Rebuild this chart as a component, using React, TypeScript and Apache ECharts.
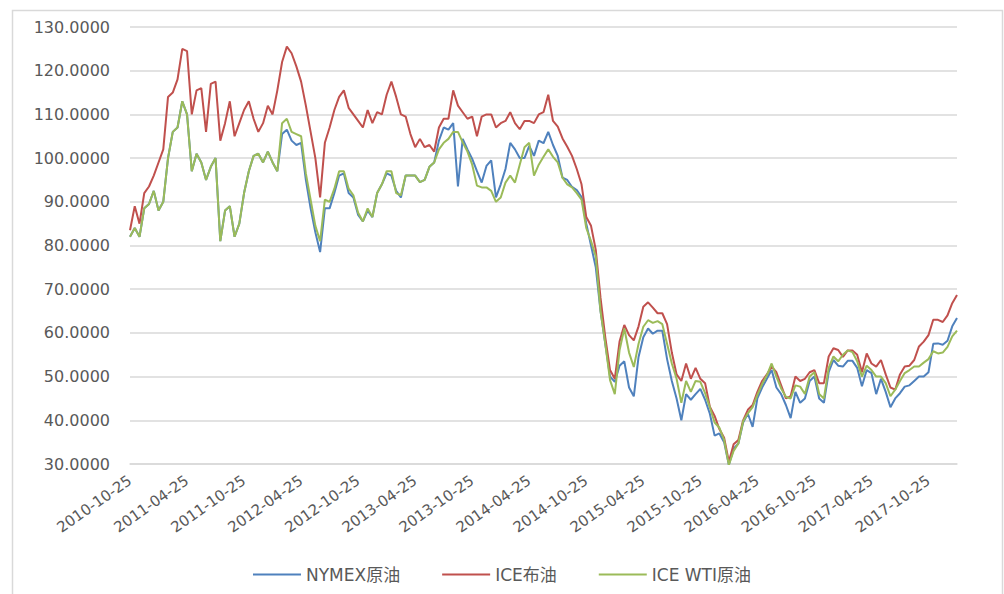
import React, { useEffect, useRef } from "react";
import * as echarts from "echarts";

// Semi-monthly sample dates (25th and 10th of each month), 2010-10-25 .. 2018-01-25
const categories: string[] = (() => {
  const out: string[] = [];
  for (let k = 0; k <= 87; k++) {
    const m0 = 9 + k; // month index from Jan 2010 (0-based)
    const y = 2010 + Math.floor(m0 / 12);
    const m = (m0 % 12) + 1;
    out.push(`${y}-${String(m).padStart(2, "0")}-25`);
    if (k < 87) {
      const m1 = m0 + 1;
      const y1 = 2010 + Math.floor(m1 / 12);
      const mm1 = (m1 % 12) + 1;
      out.push(`${y1}-${String(mm1).padStart(2, "0")}-10`);
    }
  }
  return out;
})();

const seriesNames = ["NYMEX原油", "ICE布油", "ICE WTI原油"];

const nymex: number[] = [
  82, 84, 82, 88.5, 89.5, 92.5, 88, 90, 100, 106,
  107, 113, 110, 97, 101, 99, 95, 98, 100, 81,
  88, 89, 82, 85, 92, 97, 100.5, 101, 99, 101.5,
  99, 97, 105.5, 106.5, 104, 103, 103.5, 95, 88.5, 83,
  78.5, 88.5, 88.5, 92, 96, 96.5, 92, 91, 87, 85.5,
  88, 86.5, 92, 94, 96.5, 96, 92.5, 91, 96, 96,
  96, 94.5, 95, 98, 99, 104, 107, 106.5, 108, 93.5,
  104.4, 102, 99.8, 97, 94.4, 98.2, 99.5, 91, 94, 97.5,
  103.5, 102, 100, 100, 102.8, 100.5, 104, 103.4, 106, 103,
  100.5, 95.5, 95, 93.4, 92.7, 91.1, 85, 80, 75, 65,
  57.5, 50, 48.8, 52.5, 53.5, 47.5, 45.5, 54.5, 59, 61,
  59.8, 60.5, 60.5, 54, 49, 45, 40, 46, 44.7, 46,
  47.2, 44.7, 41.5, 36.5, 37, 35, 29.8, 33.5, 34.7, 39.5,
  41.5, 38.5, 45, 47.5, 49.5, 51.5, 47.5, 46, 43.5, 40.5,
  46.5, 44, 45, 49, 50, 45, 44, 51, 53.8, 52.5,
  52.3, 53.6, 53.6, 52, 47.8, 51.5, 50.8, 46, 49.5, 46.5,
  43, 45, 46.2, 47.7, 48, 49, 50, 50, 51, 57.5,
  57.6, 57.3, 58.2, 61.5, 63.4,
];

const iceBrent: number[] = [
  83.5, 89, 85, 92, 93.5, 96, 99, 102, 114, 115,
  118, 125, 124.5, 110, 115.5, 116, 106, 117, 117.5, 104,
  108, 113, 105, 108, 111, 113, 109, 106, 108, 112,
  110, 115.5, 122, 125.5, 124, 121, 117.5, 112, 106, 100,
  91, 103.5, 107, 111, 114, 115.5, 111.5, 110, 108.5, 107,
  111, 108, 110.5, 110, 114.5, 117.5, 114, 110, 109.5, 105.5,
  102.5, 104.4, 102.5, 103, 101.5, 107, 109, 109, 115.5, 112,
  110.5, 109, 109.5, 105, 109.5, 110, 110, 107, 108, 108.5,
  110.5, 108, 106.6, 108.5, 108.5, 108, 110, 110.5, 114.5, 108.5,
  107.2, 104.5, 102.6, 100.5, 97.5, 94, 86.5, 84.5, 79, 68,
  59, 51.5, 49.5, 58, 61.8, 59.5, 58.3, 61.5, 66, 67,
  65.8, 64.5, 64.5, 62, 55.5, 50.5, 49, 53, 49.5, 52,
  49.5, 48.5, 43.1, 41, 38, 36, 30.5, 34.5, 35.5, 40,
  42.4, 43.5, 46.5, 49, 50.5, 52.3, 51, 48, 45, 45.5,
  50, 49, 49.5, 51, 51.5, 48.5, 48.5, 54.6, 56.5, 56.1,
  54.5, 56, 56, 55, 51, 55.3, 53, 52.3, 53.8, 50.5,
  47.5, 47, 50.5, 52.3, 52.5, 53.8, 56.9, 58, 59.5, 63,
  63, 62.5, 64, 66.8, 68.7,
];

const iceWti: number[] = [
  82, 84, 82, 88.5, 89.5, 92.5, 88, 90, 100, 106,
  107, 113, 110, 97, 101, 99, 95, 98, 100, 81,
  88, 89, 82, 85, 92, 97, 100.5, 101, 99, 101.5,
  99, 97, 108, 109, 106, 105.5, 105, 96.5, 90.5, 84.5,
  81, 90.5, 90, 93, 97, 97, 93, 91.5, 87.5, 85.5,
  88.5, 86.5, 92, 94, 97, 97, 92, 91.5, 96, 96,
  96, 94.5, 95, 98, 99, 102, 103.5, 104.4, 106, 106,
  103.6, 101.5, 98.5, 93.7, 93.3, 93.3, 92.5, 90, 91, 94.4,
  96, 94.4, 98.5, 102.5, 103.5, 96, 98.5, 100.3, 102, 100.3,
  99, 95.5, 94, 93.3, 92, 90.5, 84, 81, 77.5, 65,
  57.5, 49.2, 46, 56, 61, 55.5, 52.2, 57.5, 61.4, 62.9,
  62.3, 62.7, 62, 57.5, 53, 49.5, 44, 49, 46.5, 49,
  48.8, 46.2, 43, 39.5, 38.3, 35.5, 29.8, 33, 34.7, 39.8,
  41.6, 43, 45.8, 48.3, 50.3, 53, 50, 47.3, 45.4, 45,
  48, 47.7, 46, 50, 51, 46, 45, 52, 54.6, 53.5,
  55, 56, 55.6, 53.5, 50, 52.5, 51.5, 50, 50, 48.5,
  45.5, 47, 49, 50.8, 51.5, 52.3, 52.3, 53.2, 54, 55.8,
  55.3, 55.5, 56.8, 59.2, 60.5,
];

const colors = ["#4F81BD", "#C0504D", "#9BBB59"];
const FONT = "'DejaVu Sans', 'Noto Sans CJK SC', sans-serif";

export default function App() {
  const ref = useRef<HTMLDivElement>(null);
  useEffect(() => {
    if (!ref.current) return;
    const chart = echarts.init(ref.current, undefined, { renderer: "svg" });
    const values = [nymex, iceBrent, iceWti];
    chart.setOption({
      animation: false,
      backgroundColor: "#ffffff",
      color: colors,
      graphic: [
        {
          type: "rect",
          left: 10,
          top: 8,
          shape: { width: 990, height: 620 },
          style: { fill: "none", stroke: "#d9d9d9", lineWidth: 1.5 },
          silent: true,
        },
      ],
      grid: { left: 130, right: 47, top: 27, bottom: 130, containLabel: false },
      legend: {
        top: 561,
        left: "center",
        itemWidth: 48,
        itemHeight: 2,
        itemGap: 42,
        icon: "rect",
        textStyle: { color: "#595959", fontSize: 17, fontFamily: FONT },
        data: seriesNames,
      },
      xAxis: {
        type: "category",
        data: categories,
        boundaryGap: false,
        axisLine: { show: true, lineStyle: { color: "#d9d9d9", width: 1.5 } },
        axisTick: { show: false },
        splitLine: { show: false },
        axisLabel: {
          interval: (_i: number, v: string) => v.endsWith("-04-25") || v.endsWith("-10-25"),
          rotate: 35,
          margin: 15,
          color: "#595959",
          fontSize: 15,
          fontFamily: FONT,
        },
      },
      yAxis: {
        type: "value",
        min: 30,
        max: 130,
        interval: 10,
        axisLine: { show: false },
        axisTick: { show: false },
        splitLine: { lineStyle: { color: "#d9d9d9", width: 1.5 } },
        axisLabel: {
          margin: 20,
          color: "#595959",
          fontSize: 16,
          fontFamily: FONT,
          formatter: (v: number) => v.toFixed(4),
        },
      },
      series: seriesNames.map((name, k) => ({
        name,
        type: "line",
        data: values[k],
        showSymbol: false,
        symbol: "none",
        clip: true,
        lineStyle: { width: 2, color: colors[k] },
        itemStyle: { color: colors[k] },
      })),
    });
    return () => chart.dispose();
  }, []);
  return (
    <div
      ref={ref}
      style={{ position: "absolute", left: 0, top: 0, width: 1004, height: 594 }}
    />
  );
}
